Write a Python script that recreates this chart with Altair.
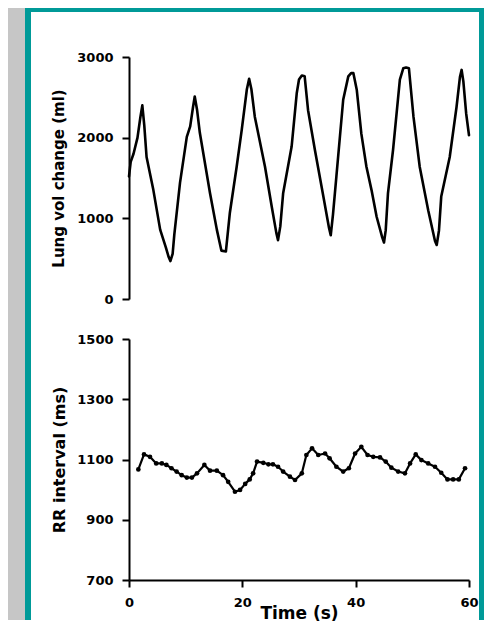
import altair as alt
import pandas as pd

# ---- data ----
lung_t = [0.0, 0.3, 0.8, 1.5, 2.0, 2.35, 2.7, 3.1, 4.3, 5.5, 6.5, 7.0, 7.3, 7.7, 8.0, 9.0,
          10.2, 10.8, 11.3, 11.6, 12.0, 12.5, 14.3, 15.5, 16.3, 17.1, 17.8, 19.0, 19.9, 20.8,
          21.2, 21.6, 22.2, 24.0, 25.2, 26.0, 26.3, 26.7, 27.2, 28.7, 29.6, 30.0, 30.5, 31.0,
          31.6, 32.8, 34.3, 35.3, 35.6, 36.0, 36.6, 37.8, 38.7, 39.2, 39.6, 40.2, 41.0, 41.9,
          42.8, 43.7, 44.7, 45.0, 45.3, 45.7, 46.6, 47.8, 48.4, 48.9, 49.4, 50.2, 51.3, 52.8,
          54.0, 54.3, 54.7, 55.1, 56.6, 57.8, 58.4, 58.7, 59.0, 59.5, 60.0]
lung_ml = [1520, 1700, 1800, 2000, 2250, 2400, 2150, 1760, 1350, 860, 640, 520, 470, 560, 800, 1440,
           2010, 2140, 2380, 2510, 2350, 2060, 1310, 860, 600, 590, 1070, 1640, 2100, 2600,
           2730, 2600, 2260, 1640, 1140, 820, 730, 900, 1310, 1890, 2550, 2720, 2770, 2760,
           2340, 1850, 1270, 880, 790, 1050, 1520, 2470, 2760, 2800, 2800, 2590, 2050, 1640,
           1350, 1020, 760, 700, 850, 1310, 1850, 2720, 2860, 2870, 2860, 2260, 1640, 1100,
           720, 670, 850, 1270, 1760, 2380, 2750, 2840, 2700, 2300, 2030]

rr_t = [1.65, 2.65, 3.7, 4.8, 5.8, 6.6, 7.5, 8.4, 9.3, 10.2, 11.1, 12.0, 13.3, 14.3, 15.5,
        16.6, 17.5, 18.7, 19.6, 20.5, 21.3, 21.9, 22.6, 23.7, 24.6, 25.4, 26.3, 27.2, 28.4,
        29.3, 30.5, 31.3, 32.3, 33.4, 34.6, 35.4, 36.6, 37.8, 38.8, 39.9, 41.0, 42.1, 43.1,
        44.3, 45.3, 46.3, 47.5, 48.7, 49.6, 50.6, 51.6, 52.8, 54.0, 55.1, 56.2, 57.2, 58.2, 59.3]
rr_ms = [1067, 1117, 1109, 1087, 1087, 1082, 1071, 1060, 1048, 1040, 1040, 1054, 1082, 1063, 1063,
         1048, 1026, 993, 999, 1019, 1034, 1054, 1093, 1089, 1084, 1084, 1076, 1060, 1043,
         1032, 1054, 1115, 1137, 1115, 1120, 1104, 1076, 1060, 1071, 1120, 1142, 1115, 1109,
         1107, 1093, 1073, 1060, 1054, 1087, 1117, 1098, 1087, 1076, 1056, 1034, 1034, 1034, 1071]

lung_ticks = [0, 1000, 2000, 3000]
rr_ticks = [700, 900, 1100, 1300, 1500]
time_ticks = [0, 20, 40, 60]

FONT = "DejaVu Sans"
GRAY = "#c6c6c6"
TEAL = "#009a98"

lung = pd.DataFrame({"t": lung_t, "v": lung_ml})
rr = pd.DataFrame({"t": rr_t, "rr": rr_ms})
one = pd.DataFrame({"k": [0]})

W, H1, H2 = 340, 242, 241

axis_style = dict(
    domainColor="black", domainWidth=2, tickColor="black", tickWidth=2, tickSize=7,
    labelFont=FONT, labelFontWeight="bold", labelFontSize=13, labelColor="black",
    labelPadding=9, titleFont=FONT, titleFontWeight="bold", titleColor="black",
    grid=False, zindex=1, labelFlush=False, format="d",
)


def frame(x1, x2, y1, y2, color):
    return alt.Chart(one).mark_rect(color=color).encode(
        x=alt.value(x1), x2=alt.value(x2), y=alt.value(y1), y2=alt.value(y2)
    )


# decorative page frame (gray surround, teal border, white card)
bg_gray = frame(-121, 355, -49, 563, GRAY)
bg_teal = frame(-104, 355, -49, 563, TEAL)
bg_white = frame(-98, 350, -45, 563, "white")

top_line = alt.Chart(lung).mark_line(color="black", strokeWidth=2.6,
                                     strokeJoin="round", strokeCap="round").encode(
    x=alt.X("t:Q", scale=alt.Scale(domain=[0, 60]), axis=None),
    y=alt.Y("v:Q", scale=alt.Scale(domain=[0, 3000]),
            axis=alt.Axis(values=lung_ticks, title="Lung vol change (ml)",
                          titleFontSize=15, titlePadding=10, **axis_style)),
)

top = alt.layer(bg_gray, bg_teal, bg_white, top_line).properties(width=W, height=H1)

bot_line = alt.Chart(rr).mark_line(
    color="black", strokeWidth=2.2, strokeJoin="round",
    point=alt.OverlayMarkDef(filled=True, color="black", size=22),
).encode(
    x=alt.X("t:Q", scale=alt.Scale(domain=[0, 60]),
            axis=alt.Axis(values=time_ticks, title="Time (s)", titleFontSize=17,
                          titlePadding=-4, **axis_style)),
    y=alt.Y("rr:Q", scale=alt.Scale(domain=[700, 1500]),
            axis=alt.Axis(values=rr_ticks, title="RR interval (ms)",
                          titleFontSize=16, titlePadding=9, **axis_style)),
)

bottom = bot_line.properties(width=W, height=H2)

chart = alt.vconcat(top, bottom, spacing=40, bounds="flush").properties(
    padding=0
).configure_view(strokeWidth=0)

chart.save("out.html", embed_options={"renderer": "svg", "actions": False})
